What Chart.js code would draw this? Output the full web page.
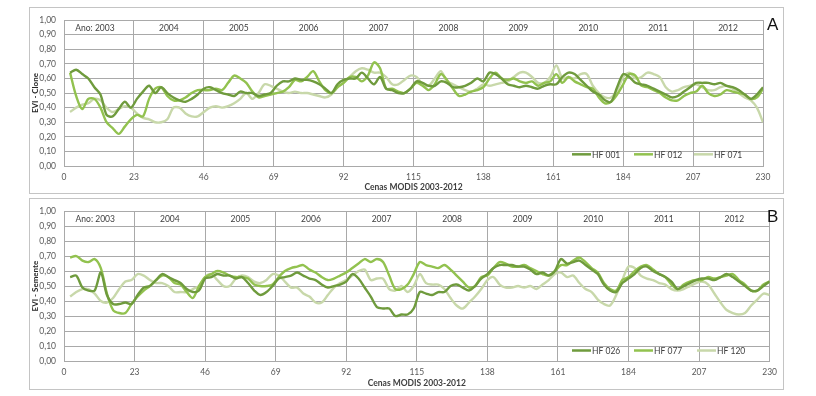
<!DOCTYPE html>
<html><head><meta charset="utf-8">
<script src="https://cdn.jsdelivr.net/npm/chart.js@4.4.1/dist/chart.umd.min.js"></script>
<style>
html,body{margin:0;padding:0;background:#fff;}
body{width:816px;height:396px;position:relative;overflow:hidden;font-family:Lato,sans-serif;}
.frame{position:absolute;left:29px;width:755px;border:1px solid #c4c4c4;box-sizing:border-box;pointer-events:none;}
canvas{position:absolute;left:29px;}
.tag{position:absolute;font:17px "Liberation Sans",Arial,sans-serif;color:#111;line-height:1;}
</style></head>
<body>
<canvas id="cA" width="754" height="186" style="top:7px"></canvas>
<canvas id="cB" width="754" height="191" style="top:198px"></canvas>
<div class="frame" style="top:7px;height:187px"></div>
<div class="frame" style="top:198px;height:192px"></div>
<div class="tag" style="left:767px;top:16px">A</div>
<div class="tag" style="left:767px;top:208px">B</div>
<script>
const scenes = [2,4,6,8,10,12,14,16,18,20,22,24,26,28,30,32,34,36,38,40,42,44,46,48,50,52,54,56,58,60,62,64,66,68,70,72,74,76,78,80,82,84,86,88,90,92,94,96,98,100,102,104,106,108,110,112,114,116,118,120,122,124,126,128,130,132,134,136,138,140,142,144,146,148,150,152,154,156,158,160,162,164,166,168,170,172,174,176,178,180,182,184,186,188,190,192,194,196,198,200,202,204,206,208,210,212,214,216,218,220,222,224,226,228,230];
const yearLabels = ['Ano: 2003','2004','2005','2006','2007','2008','2009','2010','2011','2012'];
const xTitle = 'Cenas MODIS 2003-2012';

// Panel A - Clone
const hf001 = [.64,.66,.63,.60,.54,.49,.35,.34,.39,.44,
 .40,.46,.51,.55,.50,.54,.50,.47,.45,.44,
 .46,.49,.53,.54,.52,.50,.49,.48,.51,.50,
 .50,.48,.49,.50,.55,.58,.58,.60,.59,.59,
 .58,.56,.53,.50,.56,.59,.60,.60,.64,.60,
 .56,.61,.53,.52,.50,.50,.53,.58,.57,.55,
 .55,.58,.57,.54,.54,.55,.57,.60,.58,.64,
 .63,.60,.56,.55,.54,.55,.54,.53,.55,.56,
 .56,.61,.64,.63,.59,.55,.51,.49,.45,.44,
 .54,.63,.61,.57,.56,.55,.53,.51,.49,.47,
 .48,.51,.54,.57,.57,.57,.56,.57,.55,.54,
 .52,.49,.46,.49,.54];
const hf012 = [.64,.48,.39,.46,.46,.40,.30,.26,.22,.27,
 .32,.35,.34,.46,.53,.54,.48,.45,.45,.47,
 .50,.52,.52,.52,.53,.52,.57,.62,.60,.57,
 .51,.47,.48,.49,.50,.51,.54,.59,.58,.61,
 .65,.58,.52,.50,.54,.57,.61,.61,.58,.62,
 .71,.67,.53,.53,.51,.50,.53,.57,.55,.52,
 .56,.63,.59,.53,.48,.49,.51,.52,.54,.60,
 .64,.60,.59,.60,.58,.57,.58,.55,.57,.58,
 .63,.57,.61,.58,.56,.54,.53,.47,.43,.44,
 .49,.56,.63,.62,.55,.54,.52,.50,.47,.45,
 .45,.48,.50,.51,.55,.50,.48,.49,.52,.51,
 .50,.49,.46,.47,.53];
const hf071 = [.37,.40,.42,.43,.46,.45,.40,.37,.39,.41,
 .40,.36,.33,.32,.30,.30,.32,.40,.40,.36,
 .34,.34,.37,.40,.41,.40,.41,.43,.46,.50,
 .46,.50,.56,.55,.53,.51,.50,.51,.50,.50,
 .49,.48,.47,.49,.54,.57,.61,.65,.67,.66,
 .64,.64,.61,.56,.56,.59,.62,.61,.56,.55,
 .60,.65,.58,.56,.54,.52,.51,.53,.56,.55,
 .56,.57,.58,.61,.64,.64,.61,.57,.57,.61,
 .69,.60,.61,.60,.63,.63,.55,.50,.47,.47,
 .52,.61,.64,.60,.61,.64,.63,.61,.54,.51,
 .52,.54,.55,.56,.54,.52,.52,.54,.55,.53,
 .50,.47,.45,.40,.30];

// Panel B - Semente
const hf026 = [.56,.57,.49,.47,.47,.59,.44,.38,.38,.39,
 .38,.44,.49,.50,.54,.58,.56,.54,.52,.48,
 .46,.47,.55,.56,.58,.57,.57,.55,.56,.52,
 .47,.44,.46,.50,.55,.56,.57,.59,.57,.55,
 .54,.51,.49,.50,.51,.53,.58,.55,.49,.43,
 .36,.35,.35,.30,.31,.31,.35,.46,.45,.44,
 .46,.46,.50,.51,.49,.47,.50,.55,.58,.62,
 .64,.64,.64,.63,.63,.61,.58,.59,.57,.60,
 .68,.65,.66,.67,.64,.61,.58,.51,.47,.46,
 .52,.55,.58,.62,.63,.60,.58,.56,.53,.48,
 .50,.52,.54,.55,.55,.54,.56,.58,.56,.53,
 .50,.47,.47,.50,.53];
const hf077 = [.69,.70,.67,.66,.68,.62,.45,.34,.32,.32,
 .38,.43,.47,.50,.54,.57,.56,.52,.51,.46,
 .42,.50,.56,.58,.60,.59,.57,.56,.56,.55,
 .51,.50,.50,.51,.56,.60,.62,.63,.64,.61,
 .59,.56,.54,.55,.57,.59,.62,.65,.68,.66,
 .68,.66,.57,.48,.48,.51,.58,.66,.64,.63,
 .62,.64,.61,.57,.53,.49,.50,.56,.57,.62,
 .66,.65,.63,.63,.64,.62,.60,.58,.57,.60,
 .64,.64,.67,.69,.66,.62,.59,.52,.48,.47,
 .54,.56,.60,.63,.64,.61,.58,.56,.51,.48,
 .51,.53,.54,.54,.56,.55,.56,.57,.58,.54,
 .51,.47,.47,.51,.53];
const hf120 = [.43,.46,.48,.48,.45,.40,.39,.42,.48,.53,
 .54,.58,.57,.54,.52,.52,.50,.46,.46,.46,
 .48,.50,.56,.58,.54,.50,.50,.55,.57,.56,
 .53,.52,.54,.58,.57,.53,.49,.49,.45,.43,
 .39,.39,.44,.49,.52,.54,.57,.60,.61,.54,
 .55,.55,.48,.47,.50,.46,.50,.58,.52,.51,
 .51,.48,.42,.37,.35,.39,.43,.48,.54,.56,
 .51,.49,.49,.50,.49,.50,.48,.51,.54,.58,
 .59,.56,.57,.52,.48,.46,.41,.38,.37,.44,
 .54,.63,.62,.57,.55,.54,.52,.51,.48,.47,
 .48,.50,.52,.53,.51,.45,.39,.34,.32,.31,
 .32,.37,.41,.45,.44];

const C_DARK = '#6f9b3d', C_MID = '#92c24f', C_LIGHT = '#c8d8aa';
const GRID = '#a9a9a9';
const FONT = 'Lato, "Open Sans", sans-serif';

const overlay = {
  id: 'overlay',
  afterDatasetsDraw(chart, args, opts) {
    const {ctx, chartArea, scales: {x, y}} = chart;
    ctx.save();
    ctx.font = '8.5px ' + FONT;
    ctx.fillStyle = '#404040';
    ctx.textAlign = 'center';
    ctx.textBaseline = 'middle';
    const yy = y.getPixelForValue(0.945);
    yearLabels.forEach((t, i) => {
      const cx = x.getPixelForValue(23 * i + 11.5) - (i === 0 ? 4 : 0);
      ctx.fillText(t, cx, yy);
    });
    const ly = y.getPixelForValue(opts.legendY);
    chart.data.datasets.forEach((ds, i) => {
      const x0 = chartArea.left + opts.legendX[i];
      ctx.strokeStyle = ds.borderColor;
      ctx.lineWidth = 2.5;
      ctx.beginPath(); ctx.moveTo(x0, ly); ctx.lineTo(x0 + 19, ly); ctx.stroke();
      ctx.textAlign = 'left';
      ctx.fillText(ds.label, x0 + 20, ly + 0.5);
    });
    ctx.restore();
  }
};

function makeChart(id, yTitle, names, series, rightPad, xHeight, legendX, legendY) {
  const colors = [C_DARK, C_MID, C_LIGHT];
  return new Chart(document.getElementById(id), {
    type: 'line',
    data: {
      datasets: series.map((vals, k) => ({
        label: names[k],
        data: scenes.map((s, i) => ({x: s, y: vals[i]})),
        borderColor: colors[k],
        backgroundColor: colors[k],
        borderWidth: 2.4,
        pointRadius: 0,
        tension: 0.3,
        fill: false
      }))
    },
    options: {
      responsive: false,
      animation: false,
      events: [],
      layout: {padding: {left: 0, right: rightPad, top: 9, bottom: 0}},
      plugins: {
        legend: {display: false},
        tooltip: {enabled: false},
        overlay: {legendX: legendX, legendY: legendY}
      },
      scales: {
        x: {
          type: 'linear', min: 0, max: 230,
          afterBuildTicks: (s) => { s.ticks = [0,23,46,69,92,115,138,161,184,207,230].map(v => ({value: v})); },
          afterFit: (s) => { s.height = xHeight; },
          grid: {color: GRID, lineWidth: 1, drawTicks: false},
          border: {color: GRID},
          ticks: {padding: 6, color: '#595959', font: {family: FONT, size: 8.5}, maxRotation: 0, autoSkip: false},
          title: {display: true, text: xTitle, color: '#404040', font: {family: FONT, size: 8.5, weight: 'bold'}, padding: {top: 0, bottom: 1}}
        },
        y: {
          min: 0, max: 1,
          afterFit: (s) => { s.width = 35; },
          grid: {color: GRID, lineWidth: 1, drawTicks: false},
          border: {color: GRID},
          ticks: {stepSize: 0.1, padding: 8, color: '#595959', font: {family: FONT, size: 8.5},
                  callback: (v) => v.toFixed(2).replace('.', ',')},
          title: {display: true, text: yTitle, color: '#262626', font: {family: FONT, size: 8, weight: 'bold'}, padding: {top: 2, bottom: 0}}
        }
      }
    },
    plugins: [overlay]
  });
}

makeChart('cA', 'EVI - Clone', ['HF 001', 'HF 012', 'HF 071'], [hf001, hf012, hf071], 20, 27, [508, 570, 630], 0.08);
makeChart('cB', 'EVI - Semente', ['HF 026', 'HF 077', 'HF 120'], [hf026, hf077, hf120], 13, 28, [508, 570, 633], 0.07);
</script>
</body></html>
